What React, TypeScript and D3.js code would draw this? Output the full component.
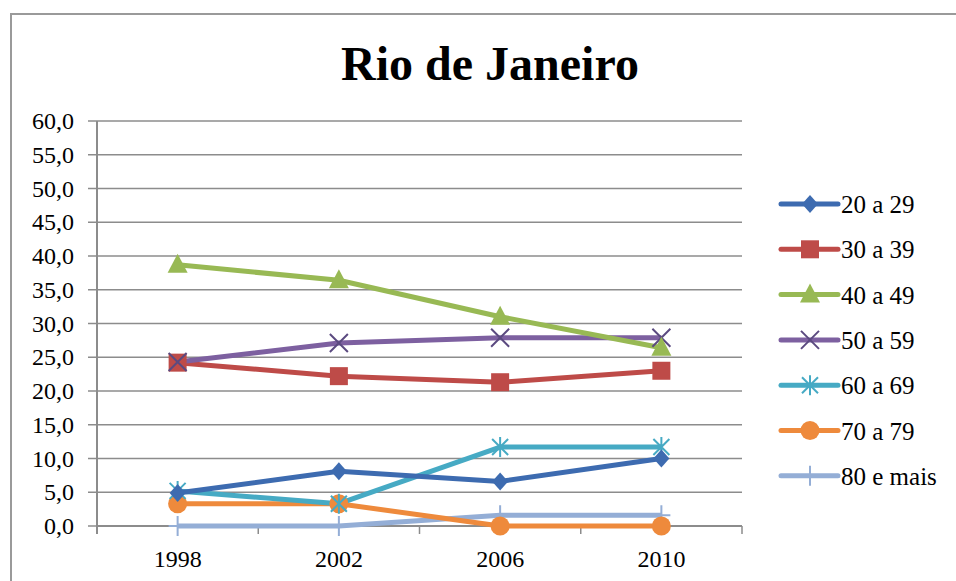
import React, { useRef, useEffect } from 'react';
import * as d3 from 'd3';

const years = ['1998', '2002', '2006', '2010'];
const seriesNames = ['20 a 29', '30 a 39', '40 a 49', '50 a 59', '60 a 69', '70 a 79', '80 e mais'];
const v20 = [4.9, 8.1, 6.6, 10.0];
const v30 = [24.2, 22.2, 21.3, 23.0];
const v40 = [38.7, 36.4, 31.0, 26.4];
const v50 = [24.3, 27.1, 27.9, 27.9];
const v60 = [5.2, 3.3, 11.7, 11.7];
const v70 = [3.3, 3.3, 0.0, 0.0];
const v80 = [0.0, 0.0, 1.6, 1.6];
const yTicks = [0, 5, 10, 15, 20, 25, 30, 35, 40, 45, 50, 55, 60];

const colors = ['#3D6BB0', '#BE4B48', '#98B954', '#7D60A0', '#46AAC4', '#EE8A3C', '#94AED6'];
const markers = ['diamond', 'square', 'triangle', 'x', 'star', 'circle', 'plus'];

const W = 956;
const H = 581;
const margin = { top: 121, right: 214, bottom: 55, left: 97 };
const FONT = 'Liberation Serif';

function drawMarker(g: any, type: string, color: string, cx: number, cy: number) {
  if (type === 'diamond') {
    g.append('path').attr('d', `M${cx},${cy - 9}L${cx + 8},${cy}L${cx},${cy + 9}L${cx - 8},${cy}Z`).attr('fill', color);
  } else if (type === 'square') {
    g.append('rect').attr('x', cx - 9).attr('y', cy - 9).attr('width', 18).attr('height', 18).attr('fill', color);
  } else if (type === 'triangle') {
    g.append('path').attr('d', `M${cx},${cy - 11}L${cx + 10},${cy + 8}L${cx - 10},${cy + 8}Z`).attr('fill', color);
  } else if (type === 'x') {
    g.append('path').attr('d', `M${cx - 9},${cy - 9}L${cx + 9},${cy + 9}M${cx + 9},${cy - 9}L${cx - 9},${cy + 9}`)
      .attr('stroke', '#5B4A80').attr('stroke-width', 2).attr('fill', 'none');
  } else if (type === 'star') {
    g.append('path').attr('d', `M${cx - 8},${cy - 8}L${cx + 8},${cy + 8}M${cx + 8},${cy - 8}L${cx - 8},${cy + 8}M${cx},${cy - 10}L${cx},${cy + 10}`)
      .attr('stroke', color).attr('stroke-width', 2).attr('fill', 'none');
  } else if (type === 'circle') {
    g.append('circle').attr('cx', cx).attr('cy', cy).attr('r', 9.5).attr('fill', color);
  } else if (type === 'plus') {
    g.append('path').attr('d', `M${cx - 9},${cy}L${cx + 9},${cy}M${cx},${cy - 10}L${cx},${cy + 10}`)
      .attr('stroke', color).attr('stroke-width', 2).attr('fill', 'none');
  }
}

const App = () => {
  const ref = useRef<SVGSVGElement>(null);

  useEffect(() => {
    const svg = d3.select(ref.current);
    svg.selectAll('*').remove();
    const allSeries = [v20, v30, v40, v50, v60, v70, v80];

    const width = W - margin.left - margin.right;
    const height = H - margin.top - margin.bottom;

    // chart frame
    svg.append('path').attr('d', `M11,${H}L11,14L${W},14`).attr('fill', 'none').attr('stroke', '#9a9a9a').attr('stroke-width', 2);

    svg.append('text')
      .attr('x', 490).attr('y', 80)
      .attr('text-anchor', 'middle')
      .attr('font-family', FONT).attr('font-weight', 'bold').attr('font-size', 48)
      .text('Rio de Janeiro');

    const g = svg.append('g').attr('transform', `translate(${margin.left},${margin.top})`);

    const x = d3.scaleBand().domain(years).range([0, width]);
    const y = d3.scaleLinear().domain([0, 60]).range([height, 0]);

    // gridlines
    g.selectAll('.grid').data(yTicks).enter().append('line')
      .attr('x1', -9).attr('x2', width)
      .attr('y1', d => y(d)).attr('y2', d => y(d))
      .attr('stroke', '#8c8c8c').attr('stroke-width', 1.5);

    // y axis
    g.append('line').attr('x1', 0).attr('x2', 0).attr('y1', 0).attr('y2', height + 8)
      .attr('stroke', '#8c8c8c').attr('stroke-width', 2);
    g.selectAll('.ylab').data(yTicks).enter().append('text')
      .attr('x', -23).attr('y', d => y(d) + 8)
      .attr('text-anchor', 'end')
      .attr('font-family', FONT).attr('font-size', 24)
      .text(d => d.toFixed(1).replace('.', ','));

    // x axis
    g.append('line').attr('x1', 0).attr('x2', width).attr('y1', height).attr('y2', height)
      .attr('stroke', '#8c8c8c').attr('stroke-width', 2);
    g.selectAll('.xt').data(years).enter().append('line')
      .attr('x1', d => (x(d) as number) + x.bandwidth()).attr('x2', d => (x(d) as number) + x.bandwidth())
      .attr('y1', height).attr('y2', height + 8)
      .attr('stroke', '#8c8c8c').attr('stroke-width', 1.5);
    g.selectAll('.xlab').data(years).enter().append('text')
      .attr('x', d => (x(d) as number) + x.bandwidth() / 2).attr('y', height + 41)
      .attr('text-anchor', 'middle')
      .attr('font-family', FONT).attr('font-size', 24)
      .text(d => d);

    const line = d3.line<number>()
      .x((_, i) => (x(years[i]) as number) + x.bandwidth() / 2)
      .y(d => y(d));

    const order = [6, 5, 4, 0, 1, 3, 2];
    order.forEach(si => {
      g.append('path').datum(allSeries[si]).attr('d', line)
        .attr('fill', 'none').attr('stroke', colors[si]).attr('stroke-width', 5).attr('stroke-linejoin', 'round');
    });
    order.forEach(si => {
      allSeries[si].forEach((v, i) => {
        drawMarker(g, markers[si], colors[si], (x(years[i]) as number) + x.bandwidth() / 2, y(v));
      });
    });

    // legend
    const lg = svg.append('g').attr('transform', 'translate(781,204)');
    seriesNames.forEach((name, i) => {
      const row = lg.append('g').attr('transform', `translate(0,${i * 45.3})`);
      row.append('line').attr('x1', 0).attr('x2', 57).attr('y1', 0).attr('y2', 0)
        .attr('stroke', colors[i]).attr('stroke-width', 5).attr('stroke-linecap', 'round');
      drawMarker(row, markers[i], colors[i], 29, 0);
      row.append('text').attr('x', 60).attr('y', 9)
        .attr('font-family', FONT).attr('font-size', 25)
        .text(name);
    });
  }, []);

  return (
    <svg ref={ref} width={W} height={H}
      style={{ position: 'absolute', left: 0, top: 0, background: '#fff' }} />
  );
};

export default App;
